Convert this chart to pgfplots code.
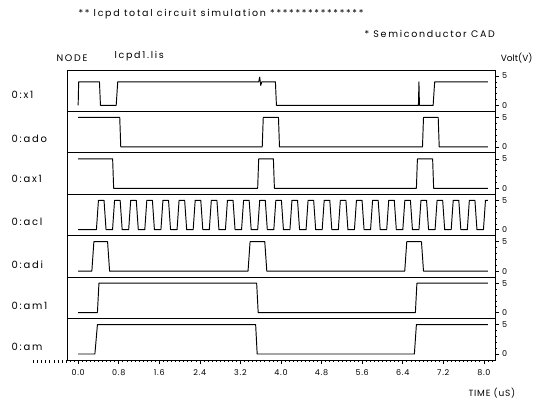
\documentclass[border=0pt]{standalone}
\usepackage{pgfplots}
\pgfplotsset{compat=1.18}
\usepackage{fontspec}
\setmainfont{Poppins}
\begin{document}
\begin{tikzpicture}[x=1pt,y=1pt]
\useasboundingbox (0,0) rectangle (541,-402);
\pgfplotsset{
  panel/.style={at={(67pt,-#1pt)}, anchor=north west, width=428pt, height=41.43pt,
    scale only axis, xmin=-0.22, xmax=8.22, ymin=-1.02, ymax=6.02,
    ytick={0,5}, minor ytick={1,2,3,4}, ytick pos=right, yticklabel pos=right,
    xtick=\empty, tick align=outside, major tick length=4pt, minor tick length=2pt,
    every tick/.style={black,line width=0.6pt}, axis line style={line width=0.9pt},
    yticklabel style={font=\fontsize{8}{8}\selectfont, inner sep=1pt, xshift=2pt},
    /pgf/number format/assume math mode=true},
  sig/.style={black, line width=0.95pt, mark=none, line join=round}
}
\newfontfamily\spaced[LetterSpace=9]{Poppins}
\newfontfamily\wide[LetterSpace=18]{Poppins}
% header texts
\node[anchor=west, font=\wide\fontsize{9.5}{9.5}\selectfont] at (75,-14) {** lcpd total circuit simulation ***************};
\node[anchor=west, font=\wide\fontsize{9.5}{9.5}\selectfont] at (361,-34) {* Semiconductor CAD};
\node[anchor=west, font=\wide\fontsize{9.5}{9.5}\selectfont] at (53,-58) {NODE};
\node[anchor=west, font=\wide\fontsize{9.5}{9.5}\selectfont] at (111,-56) {lcpd1.lis};
\node[anchor=east, font=\fontsize{9}{9}\selectfont] at (536,-58) {Volt(V)};
\node[anchor=west, font=\spaced\fontsize{9}{9}\selectfont] at (465,-393) {TIME (uS)};
% node labels
\foreach \lab/\yy in {0:x1/95,0:ado/139,0:ax1/179,0:acl/222,0:adi/265,0:am1/306,0:am/347}{
  \node[anchor=west, font=\wide\fontsize{10}{10}\selectfont] at (8,-\yy) {\lab};
}
% x1
\begin{axis}[panel=70]
\addplot[sig] coordinates {(0,0)(0.01,4)(0.42,4)(0.44,0)(0.75,0)(0.78,4)(3.56,4)(3.58,4.8)(3.60,3.4)(3.62,4)(3.89,4)(3.91,0)(6.71,0)(6.72,4)(6.73,0)(7.0,0)(7.03,4)(8.08,4)};
\end{axis}
% ado
\begin{axis}[panel=111.43]
\addplot[sig] coordinates {(0,5)(0.82,5)(0.84,0)(3.63,0)(3.65,5)(3.95,5)(3.97,0)(6.79,0)(6.81,5)(7.10,5)(7.12,0)(8.08,0)};
\end{axis}
% ax1
\begin{axis}[panel=152.86]
\addplot[sig] coordinates {(0,5)(0.68,5)(0.70,0)(3.54,0)(3.56,5)(3.85,5)(3.87,0)(6.67,0)(6.69,5)(6.99,5)(7.01,0)(8.08,0)};
\end{axis}
% acl
\begin{axis}[panel=194.29]
\addplot[sig] coordinates {(0,0)
(0.360,0)(0.400,5)(0.510,5)(0.550,0)
(0.678,0)(0.718,5)(0.828,5)(0.868,0)
(0.996,0)(1.036,5)(1.146,5)(1.186,0)
(1.314,0)(1.354,5)(1.464,5)(1.504,0)
(1.632,0)(1.672,5)(1.782,5)(1.822,0)
(1.950,0)(1.990,5)(2.100,5)(2.140,0)
(2.268,0)(2.308,5)(2.418,5)(2.458,0)
(2.586,0)(2.626,5)(2.736,5)(2.776,0)
(2.904,0)(2.944,5)(3.054,5)(3.094,0)
(3.222,0)(3.262,5)(3.372,5)(3.412,0)
(3.540,0)(3.580,5)(3.690,5)(3.730,0)
(3.858,0)(3.898,5)(4.008,5)(4.048,0)
(4.176,0)(4.216,5)(4.326,5)(4.366,0)
(4.494,0)(4.534,5)(4.644,5)(4.684,0)
(4.812,0)(4.852,5)(4.962,5)(5.002,0)
(5.130,0)(5.170,5)(5.280,5)(5.320,0)
(5.448,0)(5.488,5)(5.598,5)(5.638,0)
(5.766,0)(5.806,5)(5.916,5)(5.956,0)
(6.084,0)(6.124,5)(6.234,5)(6.274,0)
(6.402,0)(6.442,5)(6.552,5)(6.592,0)
(6.720,0)(6.760,5)(6.870,5)(6.910,0)
(7.038,0)(7.078,5)(7.188,5)(7.228,0)
(7.356,0)(7.396,5)(7.506,5)(7.546,0)
(7.674,0)(7.714,5)(7.824,5)(7.864,0)
(7.992,0)(8.032,5)(8.08,5)};
\end{axis}
% adi
\begin{axis}[panel=235.71]
\addplot[sig] coordinates {(0,0)(0.27,0)(0.31,5)(0.58,5)(0.62,0)(3.35,0)(3.39,5)(3.68,5)(3.72,0)(6.44,0)(6.48,5)(6.77,5)(6.81,0)(8.08,0)};
\end{axis}
% am1
\begin{axis}[panel=277.14]
\addplot[sig] coordinates {(0,0)(0.38,0)(0.41,5)(3.52,5)(3.55,0)(6.65,0)(6.68,5)(8.08,5)};
\end{axis}
% am
\begin{axis}[panel=318.57, xtick={0,0.8,1.6,2.4,3.2,4.0,4.8,5.6,6.4,7.2,8.0},
  xticklabels={0.0,0.8,1.6,2.4,3.2,4.0,4.8,5.6,6.4,7.2,8.0},
  minor xtick={-0.16,-0.08,...,8.17}, xtick pos=left,
  xticklabel style={font=\spaced\fontsize{8}{8}\selectfont, yshift=-2pt}]
\addplot[sig] coordinates {(0,0)(0.33,0)(0.38,5)(3.50,5)(3.53,0)(6.63,0)(6.67,5)(8.08,5)};
\end{axis}
% left tick extension
\begin{axis}[at={(67pt,-360pt)}, anchor=south east, width=34pt, height=10pt, scale only axis,
  xmin=-0.89, xmax=-0.22, ymin=0, ymax=1, hide y axis, axis x line*=bottom,
  x axis line style={draw=none}, xtick={-0.88,-0.80,...,-0.23}, xticklabels={},
  tick align=outside, major tick length=2.5pt, every tick/.style={black,line width=0.6pt}]
\end{axis}
\end{tikzpicture}
\end{document}
